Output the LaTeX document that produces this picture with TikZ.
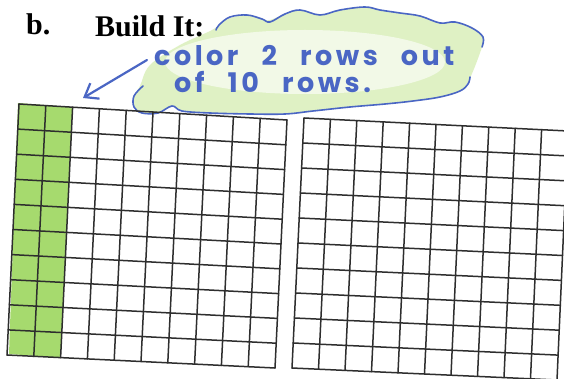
\documentclass[tikz,border=0pt]{standalone}
\usepackage{fontspec}
\setmainfont{Liberation Serif}
\newfontfamily\handfont[LetterSpace=13,WordSpace=2.5]{Poppins}
\usetikzlibrary{calc,arrows.meta}
\definecolor{penblue}{HTML}{4A66C4}
\definecolor{gridgreen}{HTML}{A6DA6E}
\definecolor{cloudgreen}{HTML}{DCF0BE}
\definecolor{gridline}{HTML}{2E2E2E}
\tikzset{
  gridstroke/.style={draw=gridline, line width=1.5pt, line cap=round},
  pen/.style={draw=penblue, line width=2pt, line cap=round, line join=round},
  hand/.style={text=penblue, font=\handfont\fontsize{27}{27}\selectfont, inner sep=0pt, anchor=base west},
  printed/.style={font=\bfseries\fontsize{30}{30}\selectfont, inner sep=0pt, anchor=base west},
}
\begin{document}
\begin{tikzpicture}[x=1pt,y=-1pt]
\useasboundingbox (0,0) rectangle (564,379);
\fill[white] (0,0) rectangle (564,379);
% cloud fill
\fill[cloudgreen, opacity=0.9] plot[smooth cycle, tension=0.6] coordinates {
 (140,86) (134,96) (134,107) (142,113) (158,113) (172,106) (182,111) (210,113) (250,114)
 (285,114) (313,111) (350,107) (385,104) (413,101) (440,97) (460,91) (470,78)
 (482,47) (483,37) (472,28) (455,22) (440,23) (420,16) (400,13) (380,10) (365,7)
 (340,10) (320,15) (300,10) (285,14) (270,20) (262,19) (247,15) (228,19) (212,30) (180,45) (150,65)};
\fill[white, opacity=0.6] (305,62) ellipse [x radius=140, y radius=32];
% cloud outline
\draw[pen, line width=1.6pt] plot[smooth, tension=0.6] coordinates {
 (143,86) (134,96) (134,107) (142,113) (158,113) (172,106) (182,111) (210,113) (250,114)
 (285,114) (313,111) (350,107) (385,104) (413,101) (440,97) (460,91) (468,84) (470,77)};
\draw[pen, line width=1.6pt] plot[smooth, tension=0.6] coordinates {
 (482,47) (483,37) (472,28) (455,22) (440,23) (420,16) (400,13) (380,10) (365,7)
 (340,10) (320,15) (300,10) (285,14) (270,22) (262,19) (247,15) (230,17) (219,25) (216,30)};
% printed heading
\node[printed] (blabel) at (26,35) {b.};
\node[printed] (build) at (95,37) {Build It:};
% handwriting
\node[hand] (line1) at (154,66) {\bfseries color 2 rows out};
\node[hand] (line2) at (174,93) {\bfseries of 10 rows.};
% arrow
\coordinate (arrowstart) at (147,60);
\coordinate (arrowend) at (83,98);
\draw[pen, line width=2.2pt, -{Straight Barb[length=12pt, width=18pt, line width=2.2pt]}] (arrowstart) -- (arrowend);
% left grid
\coordinate (Ltl) at (19,104);
\coordinate (Ltr) at (287,120);
\coordinate (Lbl) at (7,355);
\coordinate (Lbr) at (275,368);
\fill[gridgreen] ($(Ltl)+(-1,-1)$) -- ($(Ltl)!0.2!(Ltr)$) -- ($(Lbl)!0.2!(Lbr)$) -- ($(Lbl)+(2,-1)$) -- cycle;
\foreach \i in {0,...,10} {
  \draw[gridstroke] ($(Ltl)!\i/10!(Lbl)$) -- ($(Ltr)!\i/10!(Lbr)$);
  \draw[gridstroke] ($(Ltl)!\i/10!(Ltr)$) -- ($(Lbl)!\i/10!(Lbr)$);
}
% right grid
\coordinate (Rtl) at (304,118);
\coordinate (Rtr) at (568,131);
\coordinate (Rbl) at (292,368);
\coordinate (Rbr) at (557,380);
\foreach \i in {0,...,10} {
  \draw[gridstroke] ($(Rtl)!\i/10!(Rbl)$) -- ($(Rtr)!\i/10!(Rbr)$);
  \draw[gridstroke] ($(Rtl)!\i/10!(Rtr)$) -- ($(Rbl)!\i/10!(Rbr)$);
}
\end{tikzpicture}
\end{document}
